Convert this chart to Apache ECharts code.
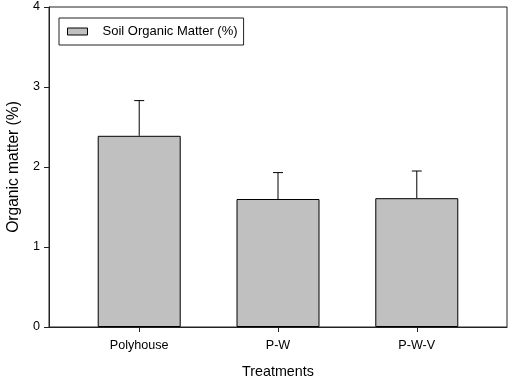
<!DOCTYPE html>
<html><head><meta charset="utf-8">
<script src="https://cdn.jsdelivr.net/npm/echarts@6/dist/echarts.min.js"></script>
<style>html,body{margin:0;padding:0;background:#fff}#c{width:511px;height:384px}</style>
</head><body><div id="c"></div>
<script>
const categories = ['Polyhouse', 'P-W', 'P-W-V'];
const means = [2.39, 1.60, 1.61];
const errors = [0.44, 0.33, 0.34];
const yTicks = [0, 1, 2, 3, 4];
const seriesName = 'Soil Organic Matter (%)';

const pos = categories.map((c, i) => i + 1);
const barData = pos.map((p, i) => [p, means[i]]);
const errData = pos.map((p, i) => [p, means[i], means[i] + errors[i]]);
const font = 'Liberation Sans, Arial, sans-serif';

const chart = echarts.init(document.getElementById('c'));
chart.setOption({
  animation: false,
  backgroundColor: '#fff',
  grid: { left: 49, right: 4, top: 7, bottom: 57, outerBoundsMode: 'none', containLabel: false,
    show: true, borderColor: '#222', borderWidth: 1, backgroundColor: 'transparent' },
  legend: {
    left: 59, top: 18, orient: 'horizontal',
    borderColor: '#222', borderWidth: 1, padding: [7, 6, 7, 8],
    itemWidth: 20, itemHeight: 7,
    itemStyle: { borderWidth: 1, borderColor: '#000' },
    data: [{ name: seriesName, icon: 'rect' }],
    textStyle: { fontFamily: font, fontSize: 13, color: '#000', padding: [0, 0, 0, 10] }
  },
  xAxis: {
    type: 'value', min: 0.35, max: 3.65,
    name: 'Treatments', nameLocation: 'middle', nameGap: 38,
    nameTextStyle: { fontFamily: font, fontSize: 14.3, color: '#000' },
    axisLine: { show: true, lineStyle: { color: '#222', width: 1 } },
    axisTick: { show: true, customValues: pos, length: 5, lineStyle: { color: '#222' } },
    axisLabel: { customValues: pos, fontFamily: font, fontSize: 12.6, color: '#000', margin: 12,
      formatter: v => categories[Math.round(v) - 1] || '' },
    splitLine: { show: false }
  },
  yAxis: {
    type: 'value', min: yTicks[0], max: yTicks[yTicks.length - 1], interval: 1,
    name: 'Organic matter (%)', nameLocation: 'middle', nameGap: 27,
    nameTextStyle: { fontFamily: font, fontSize: 15.6, color: '#000' },
    axisLine: { show: true, lineStyle: { color: '#222', width: 1 } },
    axisTick: { show: true, length: 5, lineStyle: { color: '#222' } },
    axisLabel: { fontFamily: font, fontSize: 12.6, color: '#000', margin: 9 },
    splitLine: { show: false }
  },
  series: [
    {
      name: seriesName, type: 'bar', data: barData, barWidth: 83,
      itemStyle: { color: '#c0c0c0', borderColor: '#000', borderWidth: 1 }
    },
    {
      type: 'custom', data: errData, z: 5,
      renderItem: function (params, api) {
        const x = api.value(0);
        const lo = api.coord([x, api.value(1)]);
        const hi = api.coord([x, api.value(2)]);
        const half = 5;
        return {
          type: 'group',
          children: [
            { type: 'line', shape: { x1: lo[0], y1: lo[1], x2: hi[0], y2: hi[1] }, style: { stroke: '#000', lineWidth: 1 } },
            { type: 'line', shape: { x1: hi[0] - half, y1: hi[1], x2: hi[0] + half, y2: hi[1] }, style: { stroke: '#000', lineWidth: 1 } }
          ]
        };
      }
    }
  ]
});
</script></body></html>
